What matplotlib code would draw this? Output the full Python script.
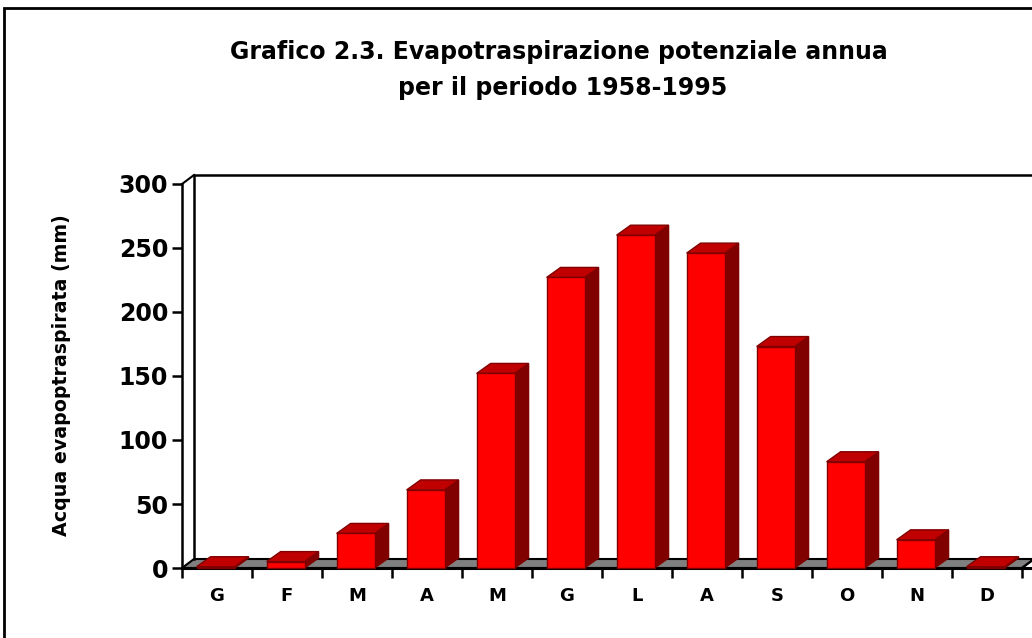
import matplotlib.pyplot as plt
import numpy as np
from matplotlib.patches import Polygon, Rectangle

# Evapotraspirazione potenziale mensile (mm), periodo 1958-1995
mesi = ["G", "F", "M", "A", "M", "G", "L", "A", "S", "O", "N", "D"]
valori = [1, 5, 27, 61, 152, 227, 260, 246, 173, 83, 22, 1]
y_ticks = [0, 50, 100, 150, 200, 250, 300]

W, H = 1032, 638
fig = plt.figure(figsize=(W / 100, H / 100), dpi=100)
fig.patch.set_facecolor("white")

# front plane of the 3D-like chart, in pixels of the reference
x0, y0, x1, y1 = 182, 568, 1022, 184
ax = fig.add_axes([x0 / W, 1 - y0 / H, (x1 - x0) / W, (y0 - y1) / H])
n = len(mesi)
ax.set_xlim(0, n)
ax.set_ylim(0, 300)
px_x = n / (x1 - x0)          # data units per pixel
px_y = 300 / (y0 - y1)

# depth offsets (pixels -> data)
wdx, wdy = 12 * px_x, 9 * px_y      # walls / floor
bdx, bdy = 14 * px_x, 10 * px_y     # bars

for s in ["top", "right", "bottom"]:
    ax.spines[s].set_visible(False)
ax.spines["left"].set_linewidth(1.8)
ax.set_facecolor("none")

# floor
floor = Polygon([(0, 0), (n, 0), (n + wdx, wdy), (wdx, wdy)], closed=True,
                facecolor="#808080", edgecolor="black", lw=1.5, clip_on=False, zorder=1)
ax.add_patch(floor)
ax.plot([0, n + wdx], [0, 0], color="black", lw=2.2, clip_on=False, zorder=2)
ax.plot([n, n + wdx], [0, wdy], color="black", lw=1.5, clip_on=False, zorder=2)

# back wall outline
ax.plot([wdx, wdx, n + wdx + 1], [wdy, 300 + wdy, 300 + wdy], color="black", lw=1.8,
        clip_on=False, zorder=1)
ax.plot([0, wdx], [300, 300 + wdy], color="black", lw=1.5, clip_on=False, zorder=1)

# bars
bw = 38 * px_x
for i, v in enumerate(valori):
    xl = i + 0.5 - bw / 2 - 0.02
    xr = xl + bw
    top = Polygon([(xl, v), (xr, v), (xr + bdx, v + bdy), (xl + bdx, v + bdy)],
                  closed=True, facecolor="#C00000", edgecolor="#800000", lw=1,
                  clip_on=False, zorder=3)
    side = Polygon([(xr, 0), (xr + bdx, bdy), (xr + bdx, v + bdy), (xr, v)],
                   closed=True, facecolor="#800000", edgecolor="#800000", lw=1,
                   clip_on=False, zorder=3)
    ax.add_patch(side)
    ax.add_patch(top)
    ax.bar(i + 0.5 - 0.02, v, width=bw, color="#FF0000", edgecolor="#800000",
           lw=1, zorder=4, clip_on=False)

# y axis
ax.set_yticks(y_ticks)
ax.tick_params(axis="y", direction="out", length=7, width=1.8, pad=3)
for lab in ax.get_yticklabels():
    lab.set_fontsize(17)
    lab.set_fontweight("bold")

# x axis: boundary ticks + centred labels
ax.set_xticks(np.arange(0, n + 1))
ax.set_xticklabels([])
ax.set_xticks(np.arange(n) + 0.5, minor=True)
ax.set_xticklabels(mesi, minor=True, fontsize=13, fontweight="bold")
ax.tick_params(axis="x", which="major", direction="out", length=7, width=1.8)
ax.tick_params(axis="x", which="minor", length=0, pad=14)
ax.xaxis.set_ticks_position("bottom")
ax.spines["bottom"].set_visible(False)

# titles
fig.text(559 / W, 1 - 52 / H, "Grafico 2.3. Evapotraspirazione potenziale annua",
         ha="center", va="center", fontsize=17, fontweight="bold")
fig.text(563 / W, 1 - 88 / H, "per il periodo 1958-1995",
         ha="center", va="center", fontsize=17, fontweight="bold")
fig.text(62 / W, 1 - 375 / H, "Acqua evapoptraspirata (mm)", rotation=90,
         ha="center", va="center", fontsize=13.7, fontweight="bold")

# chart border
fig.patches.append(Rectangle((4 / W, -0.1), 1.2, 1 - 8 / H + 0.1,
                             transform=fig.transFigure, fill=False,
                             edgecolor="black", lw=2, zorder=0))

fig.savefig("out.png", dpi=100)
